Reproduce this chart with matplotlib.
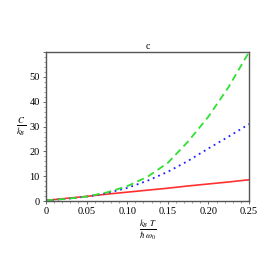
import matplotlib
matplotlib.use('Agg')
from matplotlib import pyplot as plt
from matplotlib.ticker import MultipleLocator, FuncFormatter

# reduced temperature and heat capacity
temp = [0.0, 0.025, 0.05, 0.075, 0.1, 0.125, 0.15, 0.175, 0.2, 0.225, 0.25]
c_red = [0.3, 1.1, 1.9, 2.8, 3.6, 4.4, 5.2, 6.1, 6.9, 7.7, 8.6]
c_blue = [0.3, 0.9, 1.8, 3.2, 5.3, 8.2, 11.8, 16.2, 21.2, 26.0, 31.0]
c_green = [0.3, 0.9, 1.8, 3.5, 6.0, 9.8, 15.4, 24.0, 34.0, 46.0, 60.0]

plt.rcParams['font.family'] = 'Liberation Serif'
plt.rcParams['mathtext.fontset'] = 'stix'

fig = plt.figure(figsize=(2.77, 2.77), dpi=100)
ax = fig.add_axes([0.166, 0.274, 0.733, 0.538])

ax.plot(temp, c_red, color='#ff3030', lw=1.2)
ax.plot(temp, c_blue, color='#2020ff', lw=1.3, ls=(0, (1, 2.2)))
ax.plot(temp, c_green, color='#30e030', lw=1.3, ls=(0, (4, 2.5)))

ax.set_xlim(0, 0.25)
ax.set_ylim(0, 60)
ax.xaxis.set_major_locator(MultipleLocator(0.05))
ax.xaxis.set_minor_locator(MultipleLocator(0.01))
ax.yaxis.set_major_locator(MultipleLocator(10))
ax.yaxis.set_minor_locator(MultipleLocator(2))
ax.xaxis.set_major_formatter(FuncFormatter(lambda v, p: '0' if v == 0 else f'{v:.2f}'))
ax.yaxis.set_major_formatter(FuncFormatter(lambda v, p: f'{v:.0f}' if v < 55 else ''))
ax.tick_params(which='both', direction='out', labelsize=7.5, pad=2, color='#555555')
ax.tick_params(which='major', length=2.5, width=0.6)
ax.tick_params(which='minor', length=1.2, width=0.4)
for s in ax.spines.values():
    s.set_color('#555555')
    s.set_linewidth(1.0)

ax.set_title('c', fontsize=7, pad=2)
ax.set_xlabel(r'$\frac{k_B\ T}{\hbar\ \omega_0}$', fontsize=9, labelpad=1)
ax.set_ylabel(r'$\frac{C}{k_B}$', fontsize=9, rotation=0, labelpad=6, va='center')

fig.savefig('out.png', dpi=100)
